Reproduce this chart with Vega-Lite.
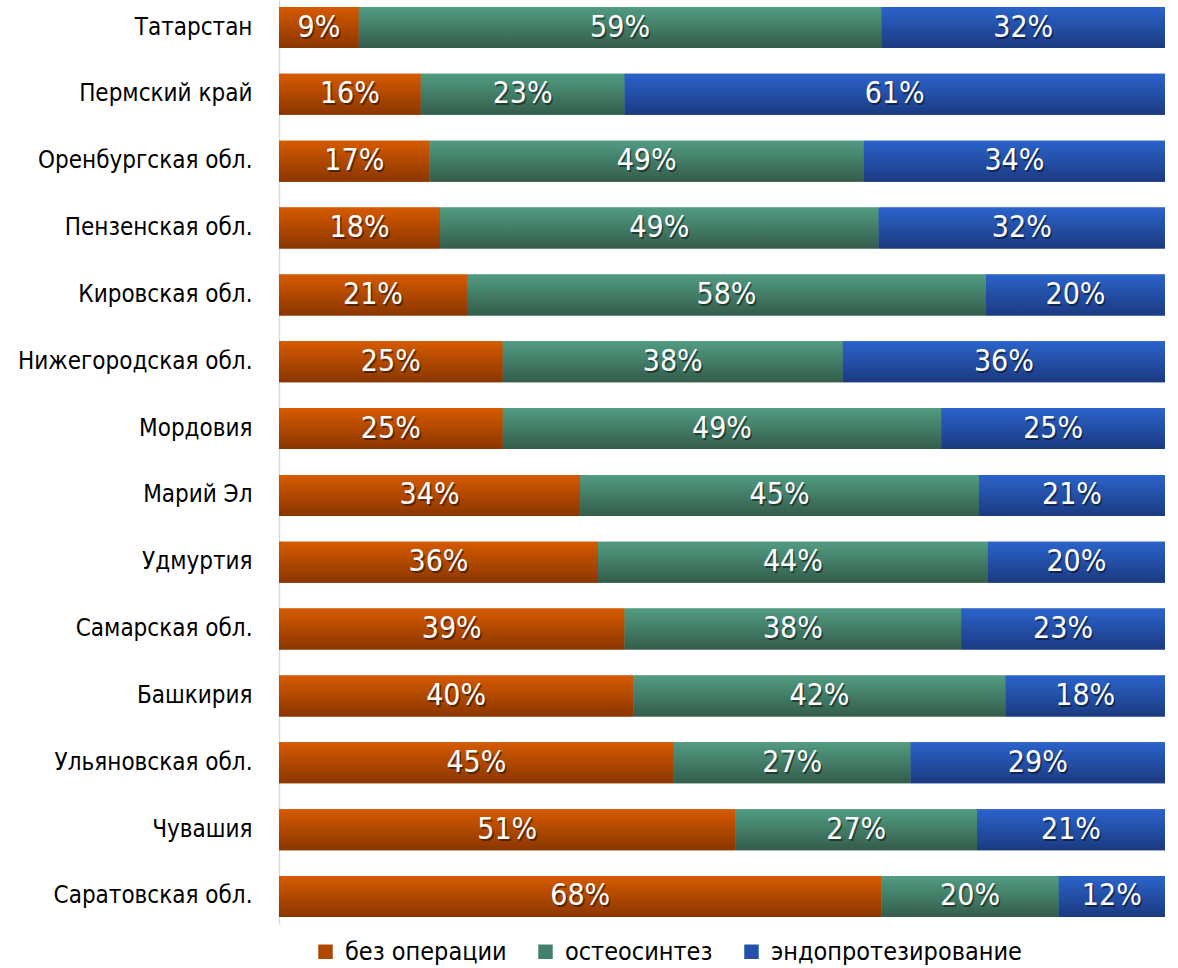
{
  "$schema": "https://vega.github.io/schema/vega-lite/v6.json",
  "width": 886,
  "height": 924,
  "autosize": "none",
  "padding": {"left": 279, "top": 0, "right": 13, "bottom": 44},
  "background": "white",
  "config": {"view": {"stroke": null}, "font": "DejaVu Sans Condensed"},
  "data": {"values": [
    {"region": "Татарстан", "cat": "без операции", "o": 1, "v": 0.09},
    {"region": "Татарстан", "cat": "остеосинтез", "o": 2, "v": 0.59},
    {"region": "Татарстан", "cat": "эндопротезирование", "o": 3, "v": 0.32},
    {"region": "Пермский край", "cat": "без операции", "o": 1, "v": 0.16},
    {"region": "Пермский край", "cat": "остеосинтез", "o": 2, "v": 0.23},
    {"region": "Пермский край", "cat": "эндопротезирование", "o": 3, "v": 0.61},
    {"region": "Оренбургская обл.", "cat": "без операции", "o": 1, "v": 0.17},
    {"region": "Оренбургская обл.", "cat": "остеосинтез", "o": 2, "v": 0.49},
    {"region": "Оренбургская обл.", "cat": "эндопротезирование", "o": 3, "v": 0.34},
    {"region": "Пензенская обл.", "cat": "без операции", "o": 1, "v": 0.18},
    {"region": "Пензенская обл.", "cat": "остеосинтез", "o": 2, "v": 0.49},
    {"region": "Пензенская обл.", "cat": "эндопротезирование", "o": 3, "v": 0.32},
    {"region": "Кировская обл.", "cat": "без операции", "o": 1, "v": 0.21},
    {"region": "Кировская обл.", "cat": "остеосинтез", "o": 2, "v": 0.58},
    {"region": "Кировская обл.", "cat": "эндопротезирование", "o": 3, "v": 0.20},
    {"region": "Нижегородская обл.", "cat": "без операции", "o": 1, "v": 0.25},
    {"region": "Нижегородская обл.", "cat": "остеосинтез", "o": 2, "v": 0.38},
    {"region": "Нижегородская обл.", "cat": "эндопротезирование", "o": 3, "v": 0.36},
    {"region": "Мордовия", "cat": "без операции", "o": 1, "v": 0.25},
    {"region": "Мордовия", "cat": "остеосинтез", "o": 2, "v": 0.49},
    {"region": "Мордовия", "cat": "эндопротезирование", "o": 3, "v": 0.25},
    {"region": "Марий Эл", "cat": "без операции", "o": 1, "v": 0.34},
    {"region": "Марий Эл", "cat": "остеосинтез", "o": 2, "v": 0.45},
    {"region": "Марий Эл", "cat": "эндопротезирование", "o": 3, "v": 0.21},
    {"region": "Удмуртия", "cat": "без операции", "o": 1, "v": 0.36},
    {"region": "Удмуртия", "cat": "остеосинтез", "o": 2, "v": 0.44},
    {"region": "Удмуртия", "cat": "эндопротезирование", "o": 3, "v": 0.20},
    {"region": "Самарская обл.", "cat": "без операции", "o": 1, "v": 0.39},
    {"region": "Самарская обл.", "cat": "остеосинтез", "o": 2, "v": 0.38},
    {"region": "Самарская обл.", "cat": "эндопротезирование", "o": 3, "v": 0.23},
    {"region": "Башкирия", "cat": "без операции", "o": 1, "v": 0.40},
    {"region": "Башкирия", "cat": "остеосинтез", "o": 2, "v": 0.42},
    {"region": "Башкирия", "cat": "эндопротезирование", "o": 3, "v": 0.18},
    {"region": "Ульяновская обл.", "cat": "без операции", "o": 1, "v": 0.45},
    {"region": "Ульяновская обл.", "cat": "остеосинтез", "o": 2, "v": 0.27},
    {"region": "Ульяновская обл.", "cat": "эндопротезирование", "o": 3, "v": 0.29},
    {"region": "Чувашия", "cat": "без операции", "o": 1, "v": 0.51},
    {"region": "Чувашия", "cat": "остеосинтез", "o": 2, "v": 0.27},
    {"region": "Чувашия", "cat": "эндопротезирование", "o": 3, "v": 0.21},
    {"region": "Саратовская обл.", "cat": "без операции", "o": 1, "v": 0.68},
    {"region": "Саратовская обл.", "cat": "остеосинтез", "o": 2, "v": 0.20},
    {"region": "Саратовская обл.", "cat": "эндопротезирование", "o": 3, "v": 0.12}
  ]},
  "encoding": {
    "y": {
      "field": "region", "type": "nominal", "sort": null,
      "scale": {"paddingInner": 0.387, "paddingOuter": 0.105},
      "axis": {"title": null, "ticks": false, "domain": true, "domainColor": "#d9d9d9", "domainWidth": 1.5,
               "labelFontSize": 24, "labelColor": "#000000", "labelPadding": 27, "labelLimit": 0, "labelFont": "DejaVu Sans Condensed"}
    }
  },
  "layer": [
    {
      "mark": {"type": "bar"},
      "encoding": {
        "x": {"field": "v", "type": "quantitative", "stack": "normalize", "axis": null, "scale": {"domain": [0, 1]}},
        "order": {"field": "o", "type": "quantitative"},
        "color": {
          "field": "cat", "type": "nominal",
          "scale": {"domain": ["без операции", "остеосинтез", "эндопротезирование"], "range": ["#b04800", "#43806a", "#2350a8"]},
          "legend": {"title": null, "orient": "none", "direction": "horizontal", "legendX": 34, "legendY": 939,
                     "symbolType": "square", "symbolSize": 210, "symbolStrokeWidth": 0, "labelFontSize": 25, "labelLimit": 0,
                     "labelColor": "#000000", "labelFont": "DejaVu Sans Condensed", "columnPadding": 26, "labelOffset": 7}
        }
      }
    },
    {
      "transform": [
        {"stack": "v", "groupby": ["region"], "sort": [{"field": "o"}], "offset": "normalize", "as": ["x0", "x1"]},
        {"filter": "datum.o == 1"}
      ],
      "mark": {"type": "bar", "fill": {"gradient": "linear", "x1": 0, "y1": 0, "x2": 0, "y2": 1,
        "stops": [{"offset": 0, "color": "#d65a00"}, {"offset": 1, "color": "#8a3600"}]}},
      "encoding": {
        "x": {"field": "x0", "type": "quantitative"},
        "x2": {"field": "x1"}
      }
    },
    {
      "transform": [
        {"stack": "v", "groupby": ["region"], "sort": [{"field": "o"}], "offset": "normalize", "as": ["x0", "x1"]},
        {"filter": "datum.o == 2"}
      ],
      "mark": {"type": "bar", "fill": {"gradient": "linear", "x1": 0, "y1": 0, "x2": 0, "y2": 1,
        "stops": [{"offset": 0, "color": "#519c82"}, {"offset": 1, "color": "#345c4b"}]}},
      "encoding": {
        "x": {"field": "x0", "type": "quantitative"},
        "x2": {"field": "x1"}
      }
    },
    {
      "transform": [
        {"stack": "v", "groupby": ["region"], "sort": [{"field": "o"}], "offset": "normalize", "as": ["x0", "x1"]},
        {"filter": "datum.o == 3"}
      ],
      "mark": {"type": "bar", "fill": {"gradient": "linear", "x1": 0, "y1": 0, "x2": 0, "y2": 1,
        "stops": [{"offset": 0, "color": "#2b63cb"}, {"offset": 1, "color": "#1b3a80"}]}},
      "encoding": {
        "x": {"field": "x0", "type": "quantitative"},
        "x2": {"field": "x1"}
      }
    },
    {
      "mark": {"type": "text", "color": "#000000", "opacity": 0.45, "fontSize": 30, "font": "DejaVu Sans Condensed", "dx": 1.5, "dy": 2, "baseline": "middle", "align": "center"},
      "encoding": {
        "x": {"field": "v", "type": "quantitative", "stack": "normalize", "bandPosition": 0.5},
        "detail": {"field": "cat"},
        "order": {"field": "o", "type": "quantitative"},
        "text": {"field": "v", "type": "quantitative", "format": ".0%"}
      }
    },
    {
      "mark": {"type": "text", "color": "#ffffff", "fontSize": 30, "font": "DejaVu Sans Condensed", "baseline": "middle", "align": "center"},
      "encoding": {
        "x": {"field": "v", "type": "quantitative", "stack": "normalize", "bandPosition": 0.5},
        "detail": {"field": "cat"},
        "order": {"field": "o", "type": "quantitative"},
        "text": {"field": "v", "type": "quantitative", "format": ".0%"}
      }
    }
  ]
}
